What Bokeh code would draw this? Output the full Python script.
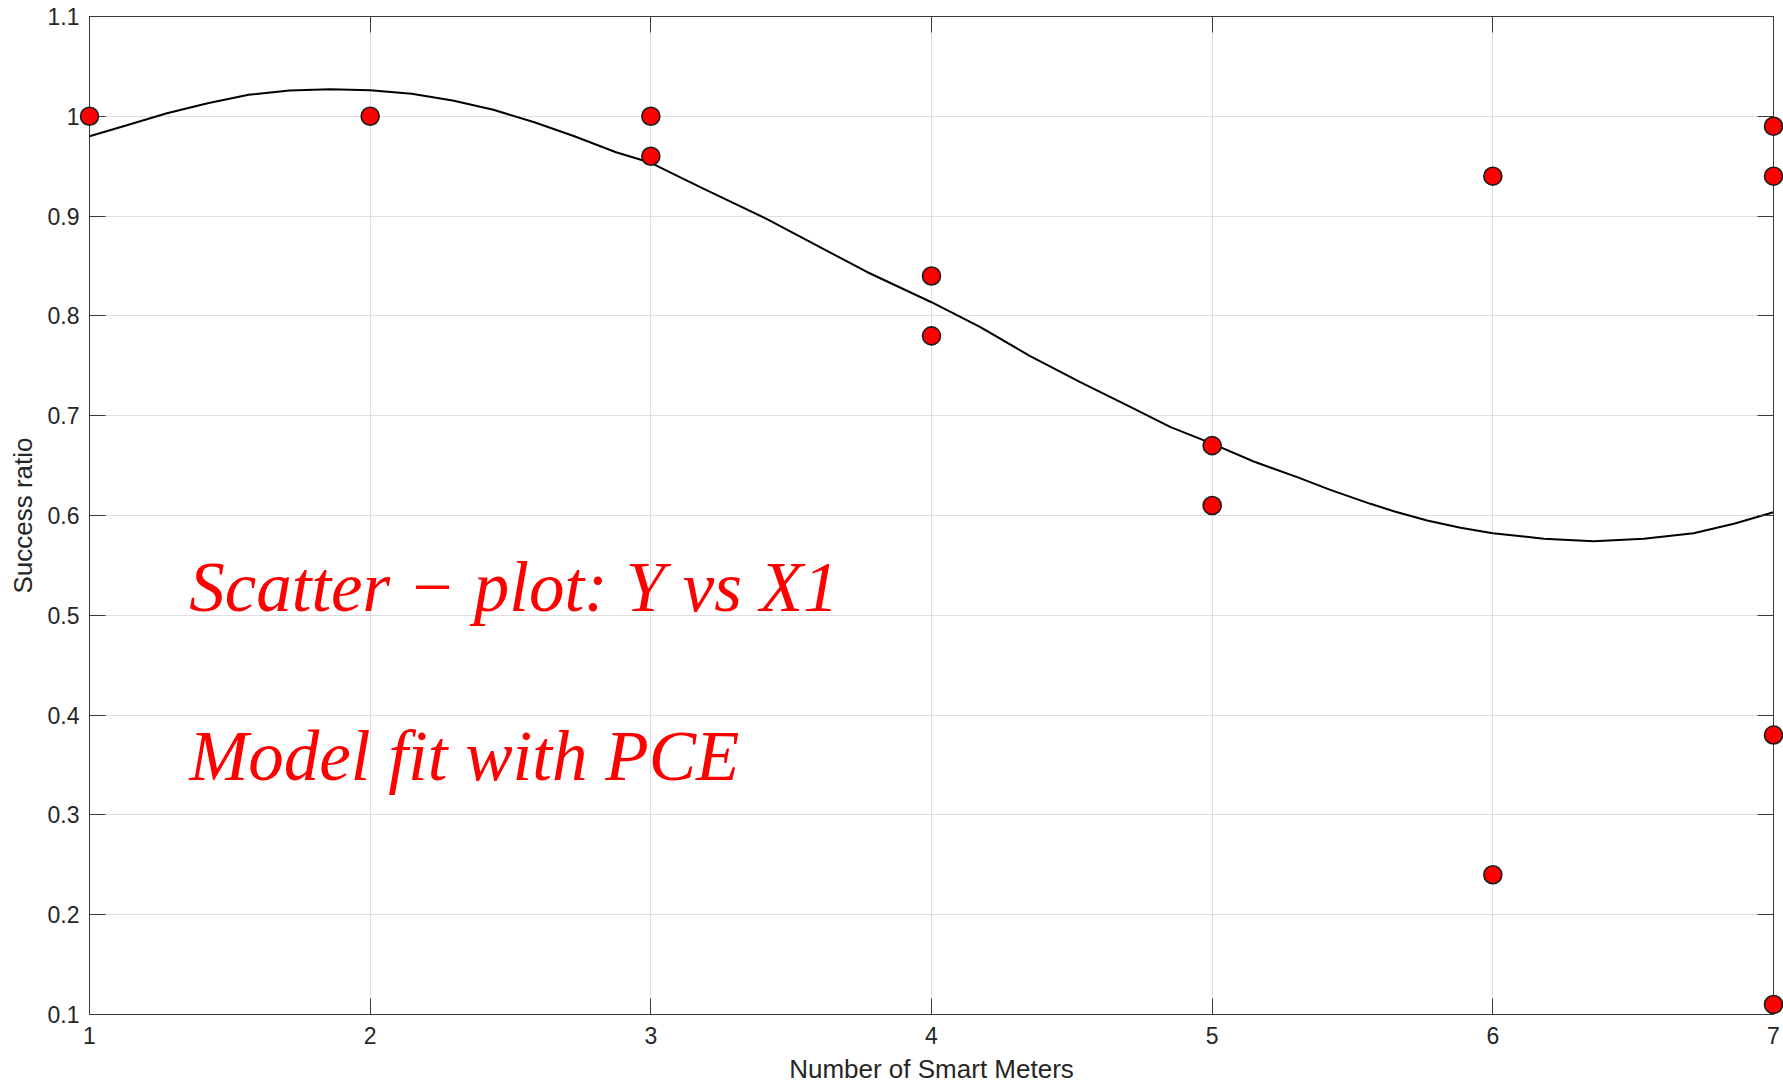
from bokeh.plotting import figure
from bokeh.models import Range1d, FixedTicker, LinearAxis, Label, CustomJSTickFormatter
from bokeh.embed import file_html
from bokeh.resources import INLINE

# ---------------- data ----------------
meters = [1, 2, 3, 3, 4, 4, 5, 5, 6, 6, 7, 7, 7, 7]
success = [1.00, 1.00, 1.00, 0.96, 0.84, 0.78, 0.67, 0.61, 0.94, 0.24, 0.99, 0.94, 0.38, 0.11]

# PCE model fit curve
fit_x = [1.0, 1.13, 1.276, 1.421, 1.567, 1.712, 1.857, 2.0, 2.148, 2.294, 2.439, 2.585,
         2.73, 2.876, 3.0, 3.176, 3.414, 3.77, 4.0, 4.174, 4.35, 4.53, 4.71, 4.852,
         5.0, 5.148, 5.303, 5.421, 5.564, 5.647, 5.766, 5.885, 6.0, 6.182, 6.359,
         6.538, 6.715, 6.859, 7.0]
fit_y = [0.980, 0.9908, 1.0031, 1.0131, 1.0215, 1.0259, 1.0272, 1.0262, 1.0225, 1.0158,
         1.0065, 0.9941, 0.9798, 0.964, 0.9534, 0.929, 0.897, 0.844, 0.8137, 0.7887,
         0.760, 0.7336, 0.7085, 0.6885, 0.672, 0.6541, 0.6384, 0.6257, 0.6117, 0.6043,
         0.595, 0.5877, 0.5823, 0.5767, 0.5743, 0.5767, 0.5823, 0.5917, 0.6033]

x_ticks = [1, 2, 3, 4, 5, 6, 7]
x_tick_labels = ["1", "2", "3", "4", "5", "6", "7"]
y_ticks = [0.1, 0.2, 0.3, 0.4, 0.5, 0.6, 0.7, 0.8, 0.9, 1.0, 1.1]
y_tick_labels = ["0.1", "0.2", "0.3", "0.4", "0.5", "0.6", "0.7", "0.8", "0.9", "1", "1.1"]

x_label = "Number of Smart Meters"
y_label = "Success ratio"
note_lines = ["Scatter \u2212 plot: Y vs X1", "Model fit with PCE"]

# ---------------- figure ----------------
AX = "#3a3a3a"
TXT = "#262626"
FONT = "Liberation Sans"

p = figure(width=1783, height=1086,
           x_range=Range1d(1, 7), y_range=Range1d(0.1, 1.1),
           output_backend="svg", toolbar_location=None,
           x_axis_location=None, y_axis_location=None,
           min_border_left=89, min_border_right=10, min_border_top=16, min_border_bottom=72,
           background_fill_color="white", border_fill_color="white")
p.outline_line_color = AX
p.outline_line_width = 1

def lab_formatter(ticks, labels):
    return CustomJSTickFormatter(args=dict(tv=ticks, tl=labels), code="""
        let best = 0, bd = 1e9;
        for (let i = 0; i < tv.length; i++) {
            const d = Math.abs(tv[i] - tick);
            if (d < bd) { bd = d; best = i; }
        }
        return tl[best];
    """)

def style_axis(ax, show_labels):
    ax.axis_line_color = AX
    ax.axis_line_width = 1
    ax.major_tick_line_color = AX
    ax.major_tick_in = 16
    ax.major_tick_out = 0
    ax.minor_tick_line_color = None
    if show_labels:
        ax.major_label_text_font = FONT
        ax.major_label_text_font_size = "23px"
        ax.major_label_text_color = TXT
        ax.axis_label_text_font = FONT
        ax.axis_label_text_font_size = "26px"
        ax.axis_label_text_font_style = "normal"
        ax.axis_label_text_color = TXT
    else:
        ax.major_label_text_font_size = "0px"
        ax.major_label_standoff = 0

xb = LinearAxis(ticker=FixedTicker(ticks=x_ticks), formatter=lab_formatter(x_ticks, x_tick_labels),
                axis_label=x_label)
style_axis(xb, True)
xb.major_label_standoff = 12
xb.axis_label_standoff = 7
p.add_layout(xb, "below")

yl = LinearAxis(ticker=FixedTicker(ticks=y_ticks), formatter=lab_formatter(y_ticks, y_tick_labels),
                axis_label=y_label)
style_axis(yl, True)
yl.major_label_standoff = 10
yl.axis_label_standoff = 7
p.add_layout(yl, "left")

xt = LinearAxis(ticker=FixedTicker(ticks=x_ticks))
style_axis(xt, False)
p.add_layout(xt, "above")

yr = LinearAxis(ticker=FixedTicker(ticks=y_ticks))
style_axis(yr, False)
p.add_layout(yr, "right")

p.xgrid.ticker = FixedTicker(ticks=x_ticks)
p.ygrid.ticker = FixedTicker(ticks=y_ticks)
for g in (p.xgrid, p.ygrid):
    g.grid_line_color = "#dedede"
    g.grid_line_width = 1

p.line(fit_x, fit_y, line_color="black", line_width=2)

p.scatter(meters, success, marker="circle", size=18, fill_color="#ff0000",
          line_color="#1a1a1a", line_width=1.6, level="overlay")

for txt, yy in zip(note_lines, [0.528, 0.359]):
    p.add_layout(Label(x=1.355, y=yy, text=txt, text_font="Liberation Serif",
                       text_font_style="italic", text_font_size="71px",
                       text_color="#ff0000", text_baseline="alphabetic"))

open("out.html", "w").write(file_html(p, INLINE))
